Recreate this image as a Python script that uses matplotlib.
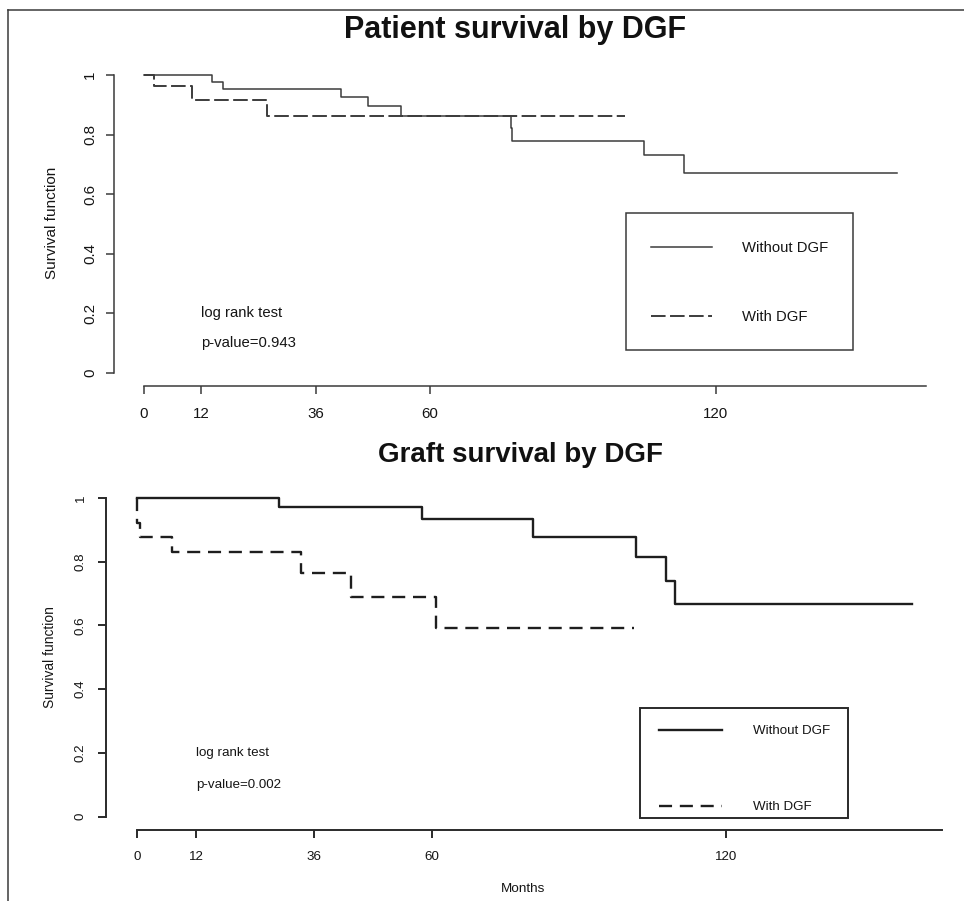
import matplotlib
matplotlib.use("Agg")
import matplotlib.pyplot as plt
from matplotlib.lines import Line2D
from matplotlib.patches import Rectangle

# ---- data (months, survival) ----
pat_no_dgf_t = [0, 14.3, 16.6, 41.3, 46.9, 53.9, 77.0, 77.3, 104.9, 113.2, 157.9]
pat_no_dgf_s = [1.0, 0.978, 0.953, 0.926, 0.897, 0.863, 0.822, 0.780, 0.732, 0.670, 0.670]
pat_dgf_t = [0, 2.0, 10.0, 25.9, 101.0]
pat_dgf_s = [1.0, 0.964, 0.917, 0.863, 0.863]

graft_no_dgf_t = [0, 29.0, 58.0, 80.6, 101.7, 107.7, 109.7, 157.8]
graft_no_dgf_s = [1.0, 0.973, 0.933, 0.879, 0.816, 0.740, 0.667, 0.667]
graft_dgf_t = [0, 0.05, 0.6, 7.1, 33.4, 43.6, 60.9, 101.3]
graft_dgf_s = [1.0, 0.921, 0.877, 0.829, 0.764, 0.688, 0.591, 0.591]

month_ticks = [0, 12, 36, 60, 120]
surv_ticks = [0, 0.2, 0.4, 0.6, 0.8, 1.0]
surv_labels = ["0", "0.2", "0.4", "0.6", "0.8", "1"]
series_labels = ["Without DGF", "With DGF"]
titles = ["Patient survival by DGF", "Graft survival by DGF"]
pvalues = ["p-value=0.943", "p-value=0.002"]

W, H = 964, 901
plt.rcParams["font.family"] = ["Liberation Sans", "DejaVu Sans"]
plt.rcParams["lines.scale_dashes"] = False

fig = plt.figure(figsize=(W / 100, H / 100), dpi=100)


def px(x, y):
    return x / W, 1 - y / H


def make_panel(x0px, x120px, y0px, y1px, left_px, bottom_px, right_px, top_px,
               lw, color, fs, xpad, ypad):
    ax = fig.add_axes([left_px / W, 1 - bottom_px / H,
                       (right_px - left_px) / W, (bottom_px - top_px) / H])
    ppm = (x120px - x0px) / 120.0
    ppu = y0px - y1px
    ax.set_xlim((left_px - x0px) / ppm, (right_px - x0px) / ppm)
    ax.set_ylim((y0px - bottom_px) / ppu, (y0px - top_px) / ppu)
    ax.patch.set_visible(False)
    ax.spines["top"].set_visible(False)
    ax.spines["right"].set_visible(False)
    for s in ["left", "bottom"]:
        ax.spines[s].set_linewidth(lw)
        ax.spines[s].set_color(color)
    ax.spines["left"].set_bounds(0, 1)
    ax.spines["bottom"].set_bounds(0, 164)
    ax.set_xticks(month_ticks)
    ax.set_xticklabels([str(m) for m in month_ticks])
    ax.set_yticks(surv_ticks)
    ax.set_yticklabels(surv_labels, rotation=90, va="center")
    ax.tick_params(direction="out", length=6, width=lw, colors=color,
                   labelsize=fs, labelcolor="#151515")
    ax.tick_params(axis="x", pad=xpad)
    ax.tick_params(axis="y", pad=ypad)
    return ax


def add_legend(handles, x_px, rows_px, fs, hlen, tpad):
    for h, lab, y in zip(handles, series_labels, rows_px):
        fig.legend([h], [lab], loc="center left", bbox_to_anchor=px(x_px, y),
                   frameon=False, borderpad=0, borderaxespad=0, fontsize=fs,
                   handlelength=hlen, handletextpad=tpad, labelcolor="#151515")


# ---------------- top panel ----------------
ax1 = make_panel(144, 716, 372.7, 75.3, 114, 386, 935, 60,
                 1.1, "#3a3a3a", 10.9, 9, 6.3)
top_lc = "#3c3c3c"
l1, = ax1.step(pat_no_dgf_t, pat_no_dgf_s, where="post", color=top_lc, lw=1.1)
l2, = ax1.step(pat_dgf_t, pat_dgf_s, where="post", color=top_lc, lw=1.4,
               linestyle=(0, (10.5, 3.2)))
ax1.text(12, 0.2, "log rank test", fontsize=10.7, color="#151515", ha="left", va="center")
ax1.text(12, 0.1, pvalues[0], fontsize=10.7, color="#151515", ha="left", va="center")
fig.text(*px(515, 30), titles[0], fontsize=22, fontweight="bold",
         ha="center", va="center", color="#111111")
fig.text(*px(52, 223), "Survival function", fontsize=11, rotation=90,
         ha="center", va="center", color="#151515")
fig.add_artist(Rectangle(px(625.7, 350), (852.7 - 625.7) / W, (350 - 213.3) / H,
                         transform=fig.transFigure, fill=False, ec="#3a3a3a", lw=1.1))
add_legend([l1, l2], 650.7, [248.3, 317.3], 10.7, 4.1, 2.05)

# ---------------- bottom panel ----------------
ax2 = make_panel(137, 726, 816.7, 498, 106, 830, 950, 485,
                 1.4, "#2a2a2a", 9.6, 8.8, 8)
bot_lc = "#1e1e1e"
l3, = ax2.step(graft_no_dgf_t, graft_no_dgf_s, where="post", color=bot_lc, lw=1.7)
l4, = ax2.step(graft_dgf_t, graft_dgf_s, where="post", color=bot_lc, lw=1.7,
               linestyle=(0, (9.4, 5.6)))
ax2.text(12, 0.2, "log rank test", fontsize=9.6, color="#151515", ha="left", va="center")
ax2.text(12, 0.1, pvalues[1], fontsize=9.6, color="#151515", ha="left", va="center")
fig.text(*px(520, 455), titles[1], fontsize=20, fontweight="bold",
         ha="center", va="center", color="#111111")
fig.text(*px(50, 657), "Survival function", fontsize=9.9, rotation=90,
         ha="center", va="center", color="#151515")
fig.text(*px(523, 889), "Months", fontsize=9.7, ha="center", va="center",
         color="#151515")
fig.add_artist(Rectangle(px(640, 818.3), (848.3 - 640) / W, (818.3 - 708.3) / H,
                         transform=fig.transFigure, fill=False, ec="#2a2a2a", lw=1.4))
add_legend([l3, l4], 659, [731, 807], 9.6, 4.75, 2.3)

# outer frame (left and top edges only, as in the reference)
fig.add_artist(Line2D([8 / W, 8 / W], [0, 1 - 10 / H], transform=fig.transFigure,
                      color="#3a3a3a", lw=1.1))
fig.add_artist(Line2D([8 / W, 1], [1 - 10 / H, 1 - 10 / H], transform=fig.transFigure,
                      color="#3a3a3a", lw=1.1))

fig.savefig("out.png", dpi=100, facecolor="white")
